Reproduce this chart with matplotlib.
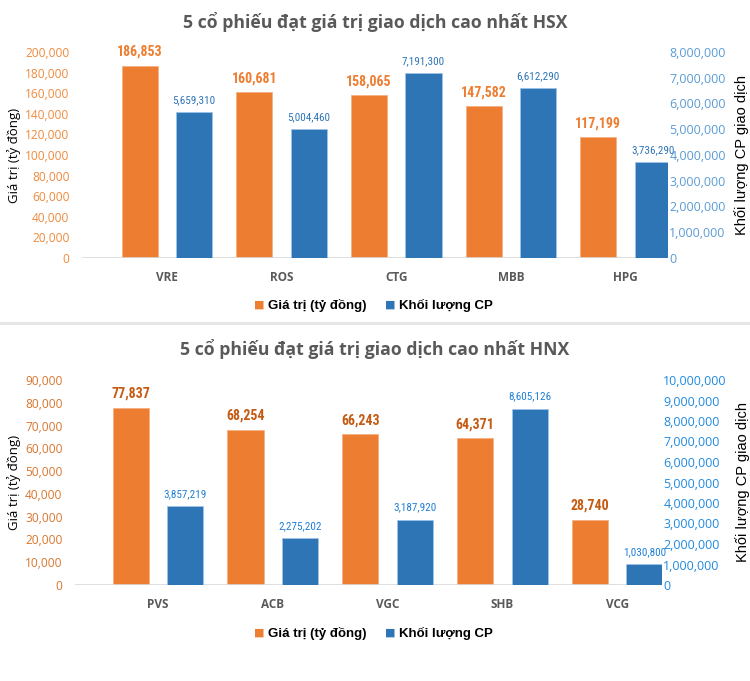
import matplotlib
matplotlib.use('Agg')
from matplotlib import pyplot as plt

# Sàn HSX
hsx_codes = ['VRE', 'ROS', 'CTG', 'MBB', 'HPG']
hsx_value = [186853, 160681, 158065, 147582, 117199]
hsx_volume = [5659310, 5004460, 7191300, 6612290, 3736290]

# Sàn HNX
hnx_codes = ['PVS', 'ACB', 'VGC', 'SHB', 'VCG']
hnx_value = [77837, 68254, 66243, 64371, 28740]
hnx_volume = [3857219, 2275202, 3187920, 8605126, 1030800]

ORANGE = '#ED7D31'
BLUE = '#2E75B6'
GRAY = '#595959'
NARROW = ['Liberation Sans Narrow', 'Arial Narrow', 'Roboto Condensed', 'Archivo Narrow', 'DejaVu Sans']


def draw_chart(fig, rect, xlim, title, codes, values, volumes, ymax, ystep, y2max, y2step,
               tick_c, tick2_c, lab_c, lab2_c, title_y, legend_y):
    ax = fig.add_axes(rect)
    ax2 = ax.twinx()
    x = list(range(len(codes)))
    w = 0.315
    off = 0.238
    ax.bar([i - off for i in x], values, w, color=ORANGE, edgecolor='#F4B183', linewidth=0.6, zorder=3)
    ax2.bar([i + off for i in x], volumes, w, color=BLUE, edgecolor='#9DC3E6', linewidth=0.6, zorder=3)

    for i, v in enumerate(values):
        ax.annotate(f'{v:,}', (i - off, v), xytext=(0, 5), textcoords='offset points',
                    ha='center', va='bottom', fontsize=10, fontweight='bold',
                    color=lab_c, family=NARROW)
    for i, v in enumerate(volumes):
        ax2.annotate(f'{v:,}', (i + off, v), xytext=(0, 5), textcoords='offset points',
                     ha='center', va='bottom', fontsize=8, color=lab2_c, family=NARROW)

    ax.set_xlim(*xlim)
    ax.set_ylim(0, ymax)
    ax2.set_ylim(0, y2max)
    ax.set_yticks(range(0, ymax + 1, ystep))
    ax2.set_yticks(range(0, y2max + 1, y2step))
    ax.set_yticklabels([f'{t:,}' for t in range(0, ymax + 1, ystep)], family='Open Sans',
                       fontsize=8.6, color=tick_c)
    ax2.set_yticklabels([f'{t:,}' for t in range(0, y2max + 1, y2step)], family='Open Sans',
                        fontsize=9, color=tick2_c)
    ax.set_xticks(x)
    ax.set_xticklabels(codes, family='Open Sans', fontweight='bold', fontsize=8.5, color=GRAY)
    ax.tick_params(axis='y', length=0, pad=9)
    ax.tick_params(axis='x', length=0, pad=9.5)
    ax2.tick_params(axis='y', length=0, pad=1)
    for a in (ax, ax2):
        for s in a.spines.values():
            s.set_visible(False)
    ax.axhline(0, color='#D9D9D9', linewidth=1.2, zorder=4)

    ax.set_ylabel('Giá trị (tỷ đồng)', family='Open Sans', fontsize=9.5, labelpad=3)
    ax2.set_ylabel('Khối lượng CP giao dịch', family='Liberation Sans', fontsize=10.5, labelpad=6)

    fig.text(0.5, title_y, title, ha='center', va='center', family='Open Sans',
             fontweight='bold', fontsize=12.7, color=GRAY)

    # chú thích
    fig.text(0.345, legend_y, '■', ha='center', va='center', color=ORANGE, fontsize=8, family='DejaVu Sans')
    fig.text(0.357, legend_y, 'Giá trị (tỷ đồng)', ha='left', va='center', fontsize=9.5,
             fontweight='bold', family='Liberation Sans')
    fig.text(0.520, legend_y, '■', ha='center', va='center', color=BLUE, fontsize=8, family='DejaVu Sans')
    fig.text(0.532, legend_y, 'Khối lượng CP', ha='left', va='center', fontsize=9.5,
             fontweight='bold', family='Liberation Sans')
    return ax


fig = plt.figure(figsize=(7.5, 6.81), dpi=100)
W, H = 750, 681

draw_chart(fig, [82 / W, (H - 258) / H, 586 / W, 206 / H], (-0.74, 4.37),
           '5 cổ phiếu đạt giá trị giao dịch cao nhất HSX',
           hsx_codes, hsx_value, hsx_volume, 200000, 20000, 8000000, 1000000,
           '#F08A3C', '#5B9BD5', ORANGE, BLUE, (H - 22) / H, (H - 305) / H)

draw_chart(fig, [75 / W, (H - 585) / H, 587 / W, 205 / H], (-0.723, 4.39),
           '5 cổ phiếu đạt giá trị giao dịch cao nhất HNX',
           hnx_codes, hnx_value, hnx_volume, 90000, 10000, 10000000, 1000000,
           '#D9752C', '#1F8AE0', '#C55A11', '#1F7FD6', (H - 349) / H, (H - 633) / H)

# đường phân cách
fig.add_artist(plt.Line2D([0, 1], [(H - 323) / H, (H - 323) / H], color='#E6E6E6', linewidth=2.2))

fig.savefig('out.png', dpi=100)
